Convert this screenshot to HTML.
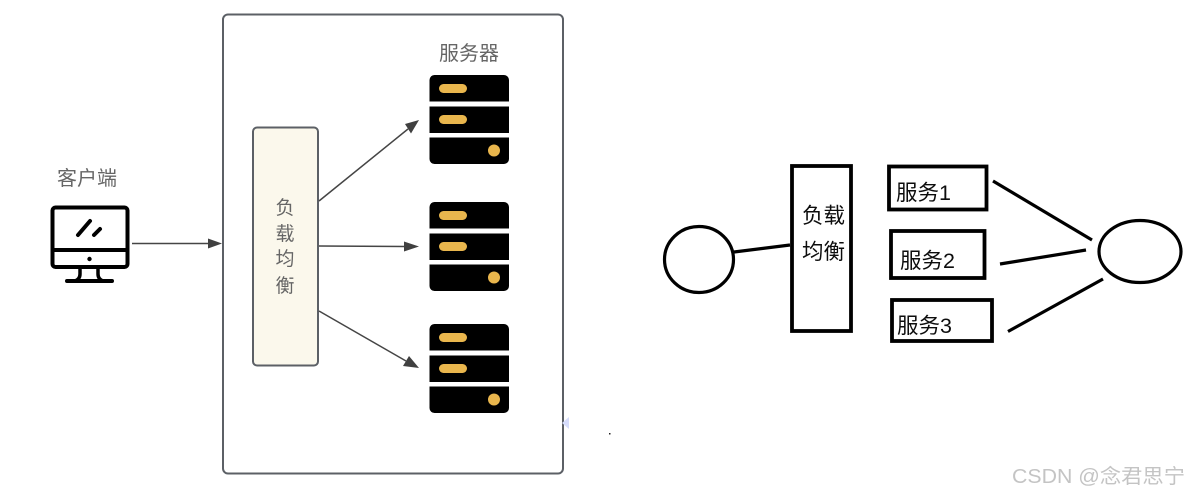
<!DOCTYPE html>
<html>
<head>
<meta charset="utf-8">
<style>
html,body{margin:0;padding:0;background:#fff;width:1189px;height:496px;overflow:hidden}
svg{display:block}
text{font-family:"Liberation Sans","Noto Sans CJK SC",sans-serif}
</style>
</head>
<body>
<svg width="1189" height="496" viewBox="0 0 1189 496" xmlns="http://www.w3.org/2000/svg">
<defs>
  <g id="srv">
    <path d="M0 26.500V5a5 5 0 0 1 5-5H74.500a5 5 0 0 1 5 5V26.500Z" fill="#000"/>
    <rect x="0" y="31.500" width="79.500" height="26.500" fill="#000"/>
    <path d="M0 62.500H79.500V84a5 5 0 0 1-5 5H5a5 5 0 0 1-5-5Z" fill="#000"/>
    <rect x="9.500" y="9" width="28" height="9" rx="4.500" fill="#e9b64d"/>
    <rect x="9.500" y="40" width="28" height="9" rx="4.500" fill="#e9b64d"/>
    <circle cx="64.500" cy="75.500" r="6" fill="#e9b64d"/>
  </g>
  <filter id="soft" filterUnits="userSpaceOnUse" x="0" y="0" width="1189" height="496">
    <feGaussianBlur stdDeviation="0.35"/>
  </filter>
</defs>
<rect width="1189" height="496" fill="#fff"/>
<g filter="url(#soft)">

<!-- big container -->
<rect x="223" y="14.500" width="340" height="459" rx="5" fill="#fff" stroke="#5b6066" stroke-width="2"/>

<!-- load balancer -->
<rect x="253" y="127.500" width="65" height="238" rx="4" fill="#fbf8ec" stroke="#5b6066" stroke-width="2"/>
<g font-size="19" fill="#666" text-anchor="middle">
  <text x="285" y="214">负</text>
  <text x="285" y="240">载</text>
  <text x="285" y="265">均</text>
  <text x="285" y="292">衡</text>
</g>

<!-- client -->
<text x="87" y="185" font-size="20" fill="#666" text-anchor="middle">客户端</text>
<g fill="none" stroke="#000" stroke-linecap="round" stroke-linejoin="round">
  <rect x="52.500" y="207.500" width="75" height="59.500" rx="3" stroke-width="4"/>
  <line x1="52.500" y1="250" x2="127.500" y2="250" stroke-width="4"/>
  <line x1="78" y1="235" x2="90" y2="221" stroke-width="4"/>
  <line x1="94" y1="235" x2="100" y2="229" stroke-width="4"/>
  <path d="M80 268v6q0 5-5 7M98 268v6q0 5 5 7" stroke-width="3.500"/>
  <line x1="67" y1="281" x2="112" y2="281" stroke-width="4"/>
</g>
<circle cx="89.500" cy="259" r="2.200" fill="#000"/>

<!-- arrows -->
<g stroke="#444" stroke-width="1.500" fill="none">
  <line x1="132" y1="243.500" x2="210" y2="243.500"/>
  <line x1="319" y1="201" x2="408" y2="129"/>
  <line x1="319" y1="246" x2="405" y2="246.500"/>
  <line x1="319" y1="311" x2="406" y2="361"/>
</g>
<g fill="#3f3f3f">
  <polygon points="222,243.500 208,238.500 208,248.500"/>
  <polygon points="419,120 405,124 411,133.500"/>
  <polygon points="419,246.500 404,241.500 404,251.500"/>
  <polygon points="419,368 409,356 403,366"/>
</g>

<!-- servers -->
<text x="469" y="60" font-size="20" fill="#666" text-anchor="middle">服务器</text>
<use href="#srv" x="429.500" y="75"/>
<use href="#srv" x="429.500" y="202"/>
<use href="#srv" x="429.500" y="324"/>

<!-- specks -->
<polygon points="562,423 569,417 569,429" fill="#d6dcfb"/>
<rect x="609" y="433" width="1.500" height="1.500" fill="#222"/>

<!-- right hand sketch -->
<g fill="none" stroke="#000">
  <ellipse cx="699" cy="259.500" rx="34.500" ry="33" stroke-width="3.200"/>
  <line x1="734" y1="252" x2="790" y2="245" stroke-width="3.200"/>
  <rect x="792" y="166" width="59" height="165" stroke-width="3.800"/>
  <rect x="889" y="166.500" width="97.500" height="43" stroke-width="3.800"/>
  <rect x="891" y="231" width="93.500" height="47" stroke-width="3.800"/>
  <rect x="892" y="300" width="100" height="41" stroke-width="3.800"/>
  <line x1="993" y1="181" x2="1092" y2="240" stroke-width="3.200"/>
  <line x1="1000" y1="264" x2="1086" y2="250" stroke-width="3.200"/>
  <line x1="1008" y1="331.500" x2="1103" y2="279" stroke-width="3.200"/>
  <ellipse cx="1140" cy="251.500" rx="41" ry="31" stroke-width="3.200"/>
</g>
<g font-size="21.500" fill="#111">
  <text x="802" y="223">负载</text>
  <text x="802" y="259">均衡</text>
  <text x="896" y="200">服务1</text>
  <text x="900" y="268">服务2</text>
  <text x="897" y="333">服务3</text>
</g>

<!-- watermark -->
<text x="1012" y="483" font-size="20" fill="#c4c4c4" textLength="173" lengthAdjust="spacingAndGlyphs">CSDN @念君思宁</text>
</g>
</svg>
</body>
</html>
